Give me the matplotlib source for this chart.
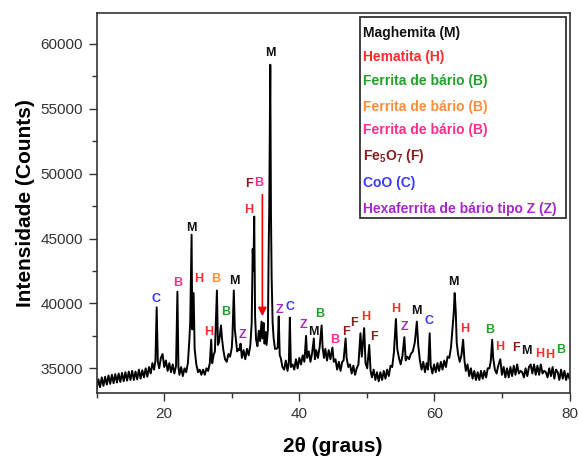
import numpy as np
import matplotlib
matplotlib.use("Agg")
import matplotlib.pyplot as plt
from matplotlib.patches import Rectangle
from matplotlib.ticker import MultipleLocator

plt.rcParams['font.family'] = ['Liberation Sans', 'DejaVu Sans']
plt.rcParams['mathtext.fontset'] = 'custom'
plt.rcParams['mathtext.rm'] = 'Liberation Sans'
plt.rcParams['mathtext.bf'] = 'Liberation Sans:bold'

# difratograma (2theta, contagens)
theta = [
    10.00, 10.25, 10.50, 10.75, 11.00, 11.25, 11.50, 11.75, 12.00, 12.25, 12.50, 12.75,
    13.00, 13.25, 13.50, 13.75, 14.00, 14.25, 14.50, 14.75, 15.00, 15.25, 15.50, 15.75,
    16.00, 16.25, 16.50, 16.75, 17.00, 17.25, 17.50, 17.75, 18.00, 18.25, 18.50, 18.70,
    18.88, 19.05, 19.25, 19.50, 19.75, 20.00, 20.25, 20.50, 20.75, 21.00, 21.25, 21.50,
    21.75, 21.95, 22.10, 22.25, 22.50, 22.75, 23.00, 23.25, 23.50, 23.70, 23.85, 24.05,
    24.15, 24.35, 24.50, 24.75, 25.00, 25.25, 25.50, 25.75, 26.00, 26.25, 26.50, 26.75,
    26.95, 27.10, 27.30, 27.50, 27.80, 27.95, 28.10, 28.25, 28.40, 28.55, 28.75, 29.00,
    29.25, 29.50, 29.75, 30.00, 30.10, 30.30, 30.45, 30.60, 30.80, 31.00, 31.15, 31.30,
    31.50, 31.75, 32.00, 32.25, 32.50, 32.75, 32.95, 33.10, 33.20, 33.32, 33.45, 33.60,
    33.80, 34.00, 34.20, 34.40, 34.55, 34.70, 34.85, 35.00, 35.15, 35.35, 35.45, 35.55,
    35.70, 35.80, 35.90, 36.05, 36.20, 36.40, 36.60, 36.80, 36.95, 37.10, 37.25, 37.50,
    37.75, 38.00, 38.25, 38.45, 38.60, 38.75, 39.00, 39.25, 39.50, 39.75, 40.00, 40.25,
    40.50, 40.75, 41.00, 41.15, 41.40, 41.65, 41.90, 42.15, 42.30, 42.50, 42.75, 43.00,
    43.30, 43.45, 43.65, 43.85, 44.10, 44.35, 44.60, 44.90, 45.10, 45.35, 45.60, 45.85,
    46.10, 46.35, 46.55, 46.85, 47.00, 47.25, 47.50, 47.75, 48.00, 48.25, 48.50, 48.75,
    49.05, 49.25, 49.60, 49.80, 50.05, 50.35, 50.55, 50.75, 51.00, 51.25, 51.50, 51.75,
    52.00, 52.25, 52.50, 52.75, 53.00, 53.25, 53.50, 53.75, 54.00, 54.30, 54.50, 54.75,
    55.00, 55.25, 55.55, 55.75, 56.00, 56.25, 56.50, 56.80, 57.10, 57.40, 57.60, 57.85,
    58.10, 58.35, 58.60, 58.85, 59.05, 59.30, 59.45, 59.70, 59.95, 60.20, 60.45, 60.70,
    60.95, 61.20, 61.45, 61.70, 61.95, 62.20, 62.45, 62.70, 62.85, 63.00, 63.15, 63.30,
    63.50, 63.75, 64.00, 64.25, 64.45, 64.65, 64.90, 65.15, 65.40, 65.65, 65.90, 66.15,
    66.40, 66.65, 66.90, 67.15, 67.40, 67.65, 67.90, 68.15, 68.35, 68.55, 68.70, 68.95,
    69.20, 69.45, 69.75, 70.00, 70.25, 70.50, 70.75, 71.00, 71.25, 71.50, 71.75, 72.00,
    72.25, 72.50, 72.75, 73.00, 73.25, 73.50, 73.75, 74.00, 74.25, 74.50, 74.75, 75.00,
    75.25, 75.50, 75.75, 76.00, 76.25, 76.50, 76.75, 77.00, 77.25, 77.50, 77.75, 78.00,
    78.25, 78.50, 78.75, 79.00, 79.25, 79.50, 79.75, 80.00,
]
counts = [
    33400, 34150, 33550, 34300, 33650, 34350, 33750, 34450, 33800, 34500, 33850, 34550,
    33900, 34600, 33950, 34650, 34000, 34700, 34050, 34750, 34100, 34800, 34100, 34750,
    34150, 34900, 34200, 34850, 34300, 35000, 34350, 35100, 34600, 35400, 34900, 35600,
    39700, 35500, 35000, 35800, 36100, 35100, 35600, 34800, 35400, 34700, 35300, 34600,
    35200, 40900, 35100, 34500, 35100, 34400, 35000, 34700, 35400, 37000, 38600, 45300,
    38000, 40800, 36500, 35300, 34700, 34900, 34500, 34900, 34500, 35000, 34800, 35400,
    37200, 35400, 36000, 36300, 41000, 36800, 37000, 37600, 38300, 37300, 36400, 35700,
    35500, 36100, 35900, 36600, 37500, 41000, 38000, 37300, 36300, 36500, 36400, 36900,
    35800, 36400, 35700, 36500, 36000, 36800, 38500, 44200, 42500, 46700, 39000, 37200,
    36700, 37900, 37100, 38600, 37300, 38500, 36900, 37800, 36800, 38000, 43500, 47500,
    58400, 47000, 42000, 38500, 37300, 36500, 36500, 36600, 39000, 36000, 35800, 35100,
    34900, 35600, 34800, 35500, 38900, 35100, 35300, 34900, 35700, 35000, 35800, 35300,
    36000, 35500, 37500, 35800, 36300, 35500, 36200, 37300, 35700, 36400, 35800, 36600,
    38300, 36600, 35800, 36500, 35600, 36400, 35700, 36600, 35500, 35700, 34900, 35500,
    34800, 35500, 35600, 37300, 35800, 35100, 35300, 34600, 35200, 34500, 35000, 35300,
    37700, 35900, 38100, 35400, 35000, 36800, 34800, 34300, 34900, 34100, 34700, 34000,
    34700, 34100, 34800, 34200, 34900, 34400, 35200, 35100, 36200, 38800, 36500, 35800,
    35300, 35900, 37400, 35600, 35900, 35700, 36100, 36300, 37000, 38600, 36800, 35600,
    34900, 35500, 34700, 35400, 34900, 37700, 35200, 34600, 35300, 34700, 35400, 34800,
    35500, 34900, 35600, 35100, 35900, 35800, 36600, 38200, 39200, 40800, 39500, 37000,
    36100, 35500, 36000, 37200, 35600, 34800, 35300, 34400, 35000, 34200, 34800, 34100,
    34700, 34100, 34800, 34200, 34800, 34300, 35000, 35000, 35600, 37200, 35800, 34900,
    34600, 35200, 35700, 34500, 35100, 34300, 35000, 34300, 35100, 34400, 35200, 34500,
    35300, 34600, 34800, 34700, 34300, 35000, 34400, 35100, 35300, 34600, 35300, 34500,
    35200, 34500, 35300, 34600, 34800, 34700, 34300, 35000, 34400, 35100, 34200, 34900,
    34700, 34100, 34900, 34200, 34800, 34100, 34600, 34200,
]

# cores das fases
c_M = '#111111'
c_H = '#ff2a2a'
c_Bg = '#22a02a'
c_Bo = '#ff8c3a'
c_Bp = '#ff2d8c'
c_F = '#8b1c1c'
c_C = '#3a3aff'
c_Z = '#a528c8'

# identificacao dos picos (letra, 2theta, contagem, cor)
lab_txt = ['C', 'B', 'M', 'H', 'B', 'H', 'B', 'M', 'Z', 'H', 'F', 'B', 'M', 'Z', 'C',
           'Z', 'M', 'B', 'B', 'F', 'F', 'H', 'F', 'H', 'Z', 'M', 'C', 'M', 'H', 'B',
           'H', 'F', 'M', 'H', 'H', 'B']
lab_x = [18.85, 21.97, 24.03, 25.05, 27.6, 26.55, 29.03, 30.42, 31.56, 32.54, 32.54, 33.98,
         35.77, 37.0, 38.59, 40.67, 42.05, 43.05, 45.28, 46.86, 48.15, 49.83, 51.12, 54.24,
         55.53, 57.31, 59.24, 62.85, 64.49, 68.2, 69.64, 72.02, 73.66, 75.63, 77.07, 78.71]
lab_y = [40380, 41610, 45780, 41850, 41850, 37830, 39320, 41720, 37600, 47230, 49230, 49310,
         59320, 39510, 39710, 38370, 37780, 39150, 37190, 37780, 38500, 38940, 37450, 39580,
         38220, 39400, 38630, 41690, 38040, 37990, 36620, 36540, 36310, 36110, 36030, 36420]
lab_col = [c_C, c_Bp, c_M, c_H, c_Bo, c_H, c_Bg, c_M, c_Z, c_H, c_F, c_Bp, c_M, c_Z, c_C,
           c_Z, c_M, c_Bg, c_Bp, c_F, c_F, c_H, c_F, c_H, c_Z, c_M, c_C, c_M, c_H, c_Bg,
           c_H, c_F, c_M, c_H, c_H, c_Bg]

leg_txt = ['Maghemita (M)', 'Hematita (H)', 'Ferrita de bário (B)', 'Ferrita de bário (B)',
           'Ferrita de bário (B)', r'Fe$_\mathbf{5}$O$_\mathbf{7}$ (F)', 'CoO (C)',
           'Hexaferrita de bário tipo Z (Z)']
leg_col = [c_M, c_H, c_Bg, c_Bo, c_Bp, c_F, c_C, c_Z]

fig = plt.figure(figsize=(5.79, 4.57), dpi=100)
ax = fig.add_axes([0.167, 0.1407, 0.8166, 0.8315])

ax.plot(theta, counts, color='black', lw=1.4)

for t, x, y, c in zip(lab_txt, lab_x, lab_y, lab_col):
    ax.text(x, y, t, color=c, fontsize=9, fontweight='bold', ha='center', va='center')

# seta vermelha
ax.annotate('', xy=(34.53, 38800), xytext=(34.53, 48600),
            arrowprops=dict(arrowstyle='-|>,head_width=0.25,head_length=0.5',
                            color='red', lw=1.2))

ax.set_xlim(10, 80)
ax.set_ylim(33120, 62410)
ax.xaxis.set_major_locator(MultipleLocator(20))
ax.xaxis.set_minor_locator(MultipleLocator(10))
ax.yaxis.set_major_locator(MultipleLocator(5000))
ax.yaxis.set_minor_locator(MultipleLocator(2500))
ax.tick_params(which='major', direction='out', length=6, width=1, color='#333333',
               labelsize=11, labelcolor='#333333', pad=4)
ax.tick_params(which='minor', direction='out', length=3.5, width=1, color='#333333')
for s in ax.spines.values():
    s.set_color('#333333')
    s.set_linewidth(1.2)

ax.set_xlabel('2θ (graus)', fontsize=15, fontweight='bold', labelpad=12)
ax.set_ylabel('Intensidade (Counts)', fontsize=15, fontweight='bold', labelpad=4)

# caixa de legenda
ax.add_patch(Rectangle((0.557, 0.46), 0.4356, 0.5295, transform=ax.transAxes,
                       facecolor='white', edgecolor='#333333', lw=1.3, zorder=5))
leg_y = [0.9458, 0.8826, 0.8211, 0.7526, 0.6913, 0.6237, 0.5526, 0.4834]
for t, c, y in zip(leg_txt, leg_col, leg_y):
    ax.text(0.5635, y, t, color=c, fontsize=10, fontweight='bold', transform=ax.transAxes,
            ha='left', va='center', zorder=6)

fig.savefig('out.png', dpi=100)
